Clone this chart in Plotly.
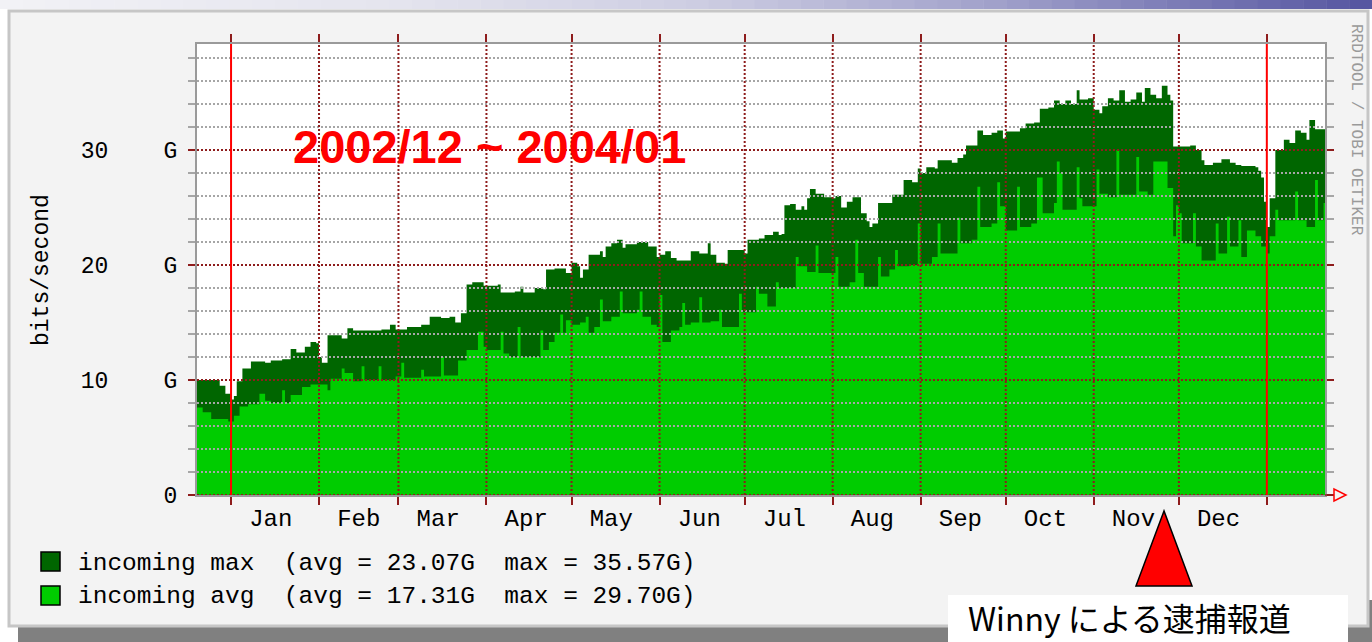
import plotly.graph_objects as go

# ---------------- data (Gbit/s) ----------------
max_dates = [
    "2002-12-20", "2002-12-25", "2002-12-28", "2002-12-30",
    "2003-01-01", "2003-01-02", "2003-01-03", "2003-01-05", "2003-01-08", "2003-01-13", "2003-01-15", "2003-01-19", "2003-01-22", "2003-01-24", "2003-01-27", "2003-01-29", "2003-01-31",
    "2003-02-01", "2003-02-02", "2003-02-04", "2003-02-09", "2003-02-11", "2003-02-13", "2003-02-18", "2003-02-23", "2003-02-26", "2003-02-28",
    "2003-03-04", "2003-03-09", "2003-03-12", "2003-03-16", "2003-03-19", "2003-03-21", "2003-03-23", "2003-03-25", "2003-03-27", "2003-03-31",
    "2003-04-05", "2003-04-06", "2003-04-11", "2003-04-13", "2003-04-14", "2003-04-18", "2003-04-21", "2003-04-22", "2003-04-25", "2003-04-29",
    "2003-05-01", "2003-05-03", "2003-05-04", "2003-05-05", "2003-05-07", "2003-05-11", "2003-05-12", "2003-05-13", "2003-05-15", "2003-05-17", "2003-05-19", "2003-05-20", "2003-05-24", "2003-05-27", "2003-05-28", "2003-05-31",
    "2003-06-01", "2003-06-03", "2003-06-05", "2003-06-07", "2003-06-11", "2003-06-12", "2003-06-15", "2003-06-18", "2003-06-19", "2003-06-21", "2003-06-24", "2003-06-25", "2003-06-29",
    "2003-07-01", "2003-07-02", "2003-07-06", "2003-07-08", "2003-07-11", "2003-07-13", "2003-07-14", "2003-07-15", "2003-07-17", "2003-07-19", "2003-07-21", "2003-07-22", "2003-07-23", "2003-07-24", "2003-07-26", "2003-07-29",
    "2003-08-01", "2003-08-02", "2003-08-04", "2003-08-06", "2003-08-08", "2003-08-11", "2003-08-13", "2003-08-14", "2003-08-15", "2003-08-17", "2003-08-22", "2003-08-26", "2003-08-29", "2003-08-31",
    "2003-09-01", "2003-09-03", "2003-09-06", "2003-09-07", "2003-09-12", "2003-09-14", "2003-09-16", "2003-09-17", "2003-09-21", "2003-09-23", "2003-09-26", "2003-09-28", "2003-09-30",
    "2003-10-01", "2003-10-06", "2003-10-08", "2003-10-11", "2003-10-13", "2003-10-16", "2003-10-18", "2003-10-20", "2003-10-22", "2003-10-24", "2003-10-26", "2003-10-27", "2003-10-30",
    "2003-11-01", "2003-11-03", "2003-11-04", "2003-11-06", "2003-11-08", "2003-11-10", "2003-11-12", "2003-11-14", "2003-11-16", "2003-11-18", "2003-11-19", "2003-11-21", "2003-11-23", "2003-11-25", "2003-11-27", "2003-11-28", "2003-11-29",
    "2003-12-03", "2003-12-05", "2003-12-07", "2003-12-09", "2003-12-10", "2003-12-13", "2003-12-16", "2003-12-19", "2003-12-21", "2003-12-23", "2003-12-28", "2003-12-29", "2003-12-30", "2003-12-31",
    "2004-01-01", "2004-01-02", "2004-01-04", "2004-01-07", "2004-01-09", "2004-01-11", "2004-01-13", "2004-01-15", "2004-01-16", "2004-01-18", "2004-01-22",
]
max_vals = [
    10.0, 10.0, 9.5, 8.8,
    8.3, 8.6, 9.9, 11.0, 11.6, 11.5, 11.7, 11.8, 12.7, 12.4, 12.9, 13.3, 13.2,
    12.0, 11.5, 13.9, 13.6, 14.5, 14.3, 14.3, 14.4, 14.8, 14.4,
    14.6, 14.8, 15.5, 15.4, 15.5, 15.0, 15.8, 18.3, 18.5, 18.2,
    18.3, 17.6, 17.7, 18.1, 17.6, 18.0, 17.9, 19.6, 19.7, 19.3,
    20.2, 19.9, 18.9, 19.6, 20.9, 21.2, 20.7, 21.6, 21.9, 22.2, 21.5, 21.8, 22.0, 22.0, 21.6, 20.7,
    20.9, 21.2, 20.6, 20.4, 20.4, 21.2, 21.0, 21.9, 20.9, 20.2, 20.1, 21.3, 21.3,
    21.0, 22.2, 22.3, 22.6, 22.9, 22.6, 22.7, 25.2, 25.3, 24.8, 25.1, 24.8, 25.8, 26.6, 26.2, 25.9,
    25.8, 26.0, 25.0, 25.5, 25.9, 24.5, 23.8, 23.3, 23.6, 25.4, 26.1, 27.4, 27.2, 28.4,
    28.0, 28.5, 28.4, 29.1, 28.9, 29.3, 29.6, 30.4, 31.7, 31.3, 31.5, 31.7, 31.0,
    31.6, 31.9, 32.3, 32.4, 33.6, 33.7, 34.3, 34.0, 34.3, 34.0, 35.2, 34.4, 34.5,
    33.5, 33.2, 33.8, 34.5, 34.3, 35.2, 34.2, 34.4, 35.0, 34.2, 35.4, 34.8, 34.5, 35.6, 34.8, 34.3, 30.3,
    30.3, 30.4, 30.0, 29.1, 28.7, 28.9, 29.2, 28.9, 28.7, 28.6, 28.5, 28.2, 27.6, 25.5,
    23.3, 25.8, 30.0, 30.9, 30.6, 31.7, 31.5, 30.9, 32.6, 31.8, 31.7,
]

avg_dates = [
    "2002-12-20", "2002-12-22", "2002-12-25", "2002-12-31",
    "2003-01-02", "2003-01-04", "2003-01-07", "2003-01-11", "2003-01-13", "2003-01-15", "2003-01-19", "2003-01-20", "2003-01-22", "2003-01-26", "2003-01-29",
    "2003-02-02", "2003-02-04", "2003-02-05", "2003-02-09", "2003-02-10", "2003-02-13", "2003-02-16", "2003-02-17", "2003-02-22", "2003-02-23", "2003-02-28",
    "2003-03-02", "2003-03-03", "2003-03-09", "2003-03-10", "2003-03-16", "2003-03-17", "2003-03-22", "2003-03-25", "2003-03-29", "2003-03-31",
    "2003-04-01", "2003-04-06", "2003-04-07", "2003-04-09", "2003-04-12", "2003-04-13", "2003-04-20", "2003-04-21", "2003-04-23", "2003-04-25", "2003-04-27", "2003-04-28", "2003-04-29",
    "2003-05-01", "2003-05-04", "2003-05-06", "2003-05-07", "2003-05-09", "2003-05-11", "2003-05-12", "2003-05-15", "2003-05-18", "2003-05-19", "2003-05-24", "2003-05-25", "2003-05-26", "2003-05-29", "2003-05-31",
    "2003-06-01", "2003-06-02", "2003-06-05", "2003-06-08", "2003-06-09", "2003-06-10", "2003-06-12", "2003-06-15", "2003-06-16", "2003-06-19", "2003-06-22", "2003-06-23", "2003-06-29", "2003-06-30",
    "2003-07-05", "2003-07-06", "2003-07-09", "2003-07-12", "2003-07-13", "2003-07-19", "2003-07-20", "2003-07-23", "2003-07-26", "2003-07-27",
    "2003-08-02", "2003-08-03", "2003-08-07", "2003-08-09", "2003-08-10", "2003-08-12", "2003-08-17", "2003-08-18", "2003-08-21", "2003-08-23", "2003-08-24", "2003-08-28", "2003-08-31",
    "2003-09-01", "2003-09-05", "2003-09-07", "2003-09-08", "2003-09-14", "2003-09-15", "2003-09-19", "2003-09-21", "2003-09-22", "2003-09-26", "2003-09-28", "2003-09-29",
    "2003-10-01", "2003-10-05", "2003-10-06", "2003-10-10", "2003-10-12", "2003-10-14", "2003-10-18", "2003-10-19", "2003-10-20", "2003-10-21", "2003-10-26", "2003-10-27", "2003-10-28",
    "2003-11-02", "2003-11-03", "2003-11-06", "2003-11-09", "2003-11-10", "2003-11-16", "2003-11-17", "2003-11-20", "2003-11-22", "2003-11-27", "2003-11-29", "2003-11-30",
    "2003-12-01", "2003-12-02", "2003-12-06", "2003-12-07", "2003-12-09", "2003-12-14", "2003-12-15", "2003-12-18", "2003-12-19", "2003-12-22", "2003-12-23", "2003-12-25", "2003-12-28", "2003-12-30",
    "2004-01-01", "2004-01-02", "2004-01-04", "2004-01-05", "2004-01-11", "2004-01-12", "2004-01-15", "2004-01-18", "2004-01-19", "2004-01-21", "2004-01-22",
]
avg_vals = [
    7.6, 7.2, 6.6, 6.4,
    6.9, 7.7, 7.9, 8.8, 8.2, 8.0, 9.1, 8.0, 8.7, 9.4, 9.6,
    9.6, 9.1, 10.1, 11.0, 10.6, 9.9, 11.2, 10.0, 11.2, 10.0, 10.3,
    11.5, 10.2, 10.9, 10.3, 12.0, 10.4, 11.7, 12.6, 14.2, 12.9,
    12.6, 14.2, 12.3, 12.0, 14.6, 12.0, 14.3, 12.6, 13.3, 14.1, 15.7, 14.1, 15.2,
    14.8, 15.0, 15.5, 14.1, 14.6, 17.0, 15.1, 15.5, 17.7, 15.8, 16.1, 17.7, 15.5, 14.8, 14.6,
    17.4, 13.3, 14.3, 14.6, 16.7, 14.8, 15.0, 17.2, 15.0, 15.1, 16.1, 14.6, 17.5, 15.9,
    18.1, 17.5, 16.4, 18.5, 18.0, 20.7, 19.9, 19.4, 21.7, 19.3,
    20.7, 18.1, 18.5, 22.2, 19.3, 18.1, 20.7, 19.0, 19.6, 21.3, 19.9, 20.0, 23.6,
    20.1, 20.7, 23.6, 21.0, 24.1, 21.9, 22.2, 26.8, 23.3, 23.6, 27.2, 25.1,
    23.0, 26.8, 23.3, 23.6, 27.6, 24.5, 25.4, 29.0, 28.0, 24.8, 28.5, 25.8, 25.1,
    28.3, 26.2, 25.9, 30.0, 26.1, 29.4, 26.4, 26.1, 29.0, 26.7, 22.5, 25.2,
    24.5, 21.9, 24.5, 21.6, 20.4, 23.6, 21.0, 24.2, 21.6, 23.9, 20.7, 23.0, 22.5, 21.6,
    21.0, 22.5, 24.8, 23.9, 26.4, 23.9, 23.3, 27.4, 23.9, 25.4, 25.4,
]

month_labels = ["Jan", "Feb", "Mar", "Apr", "May", "Jun", "Jul", "Aug", "Sep", "Oct", "Nov", "Dec"]
label_dates = ["2003-%02d-15" % m for m in range(1, 13)]
month_starts = ["2003-%02d-01" % m for m in range(2, 13)]
year_starts = ["2003-01-01", "2004-01-01"]
y_tick_vals = [0, 10, 20, 30]
y_tick_text = ["0", "10    G", "20    G", "30    G"]
major_levels = [0, 10, 20, 30]
minor_levels = [v for v in range(2, 40, 2) if v % 10]
legend_names = ["incoming max  (avg = 23.07G  max = 35.57G)",
                "incoming avg  (avg = 17.31G  max = 29.70G)"]
title_text = "2002/12 ~ 2004/01"
note_text = "Winny による逮捕報道"
watermark = "RRDTOOL / TOBI OETIKER"

# ---------------- styling ----------------
W, H = 1372, 642
L, R, T, B = 197, 1325, 44, 495     # plot box in pixels
DARK = "#006600"
LIGHT = "#00cc00"
MGRID = "#8e1c1c"
GRID = "#a6a6a6"
FRAME = "#9a9a9a"
MONO = "Liberation Mono"


def px(x):
    return (x - L) / (R - L)


def py(y):
    return (B - y) / (B - T)


fig = go.Figure()
fig.add_trace(go.Scatter(x=max_dates, y=max_vals, mode="lines",
                         line=dict(width=0, shape="hv", color=DARK),
                         fill="tozeroy", fillcolor=DARK, showlegend=False,
                         hoverinfo="skip"))
fig.add_trace(go.Scatter(x=avg_dates, y=avg_vals, mode="lines",
                         line=dict(width=0, shape="hv", color=LIGHT),
                         fill="tozeroy", fillcolor=LIGHT, showlegend=False,
                         hoverinfo="skip"))

shapes = []
# slide decoration: shadow, panel, top gradient band, white plot area
shapes.append(dict(type="rect", xref="paper", yref="paper", x0=px(18), x1=px(1390),
                   y0=py(660), y1=py(600), fillcolor="#808080", line=dict(width=0), layer="below"))
shapes.append(dict(type="rect", xref="paper", yref="paper", x0=px(9), x1=px(1368),
                   y0=py(626), y1=py(11), fillcolor="#f3f3f3",
                   line=dict(color="#c6c6c6", width=3), layer="below"))
stops = [(0, (242, 242, 246)), (400, (228, 228, 238)), (700, (205, 205, 226)),
         (1000, (160, 160, 202)), (1372, (84, 84, 160))]
N = 60
for i in range(N):
    xa = W * i / N
    xb = W * (i + 1) / N
    xm = (xa + xb) / 2
    for (s0, c0), (s1, c1) in zip(stops[:-1], stops[1:]):
        if s0 <= xm <= s1:
            f = (xm - s0) / (s1 - s0)
            c = tuple(int(round(a + (b - a) * f)) for a, b in zip(c0, c1))
            break
    shapes.append(dict(type="rect", xref="paper", yref="paper", x0=px(xa), x1=px(xb + 0.5),
                       y0=py(9), y1=py(0), fillcolor="rgb(%d,%d,%d)" % c,
                       line=dict(width=0), layer="below"))
shapes.append(dict(type="rect", xref="paper", yref="paper", x0=0, x1=1, y0=0, y1=1,
                   fillcolor="white", line=dict(width=0), layer="below"))

# grid drawn over the data, as rrdtool does
for v in minor_levels:
    shapes.append(dict(type="line", xref="paper", x0=0, x1=1, yref="y", y0=v, y1=v,
                       line=dict(color=GRID, width=2, dash="2px,2px"), layer="above"))
for v in major_levels:
    shapes.append(dict(type="line", xref="paper", x0=0, x1=1, yref="y", y0=v, y1=v,
                       line=dict(color=MGRID, width=2, dash="2px,2px"), layer="above"))
for d in month_starts:
    shapes.append(dict(type="line", xref="x", x0=d, x1=d, yref="paper", y0=0, y1=1,
                       line=dict(color=MGRID, width=2, dash="2px,2px"), layer="above"))
for d in year_starts:
    shapes.append(dict(type="line", xref="x", x0=d, x1=d, yref="paper", y0=0, y1=1,
                       line=dict(color="#ff0000", width=2), layer="above"))

# x-axis arrow
shapes.append(dict(type="line", xref="paper", yref="paper", x0=1, x1=px(1334), y0=0, y1=0,
                   line=dict(color=MGRID, width=1.5), layer="above"))
shapes.append(dict(type="path", xref="paper", yref="paper",
                   path="M %f,%f L %f,%f L %f,%f Z" % (px(1334), py(489), px(1334), py(501), px(1346), py(495)),
                   fillcolor="#f3f3f3", line=dict(color="#ff0000", width=1.5), layer="above"))

# legend squares
for i, col in enumerate([DARK, LIGHT]):
    y0 = 552 + 34 * i
    shapes.append(dict(type="rect", xref="paper", yref="paper", x0=px(41), x1=px(60),
                       y0=py(y0 + 19), y1=py(y0), fillcolor=col,
                       line=dict(color="black", width=1.5), layer="above"))

# red triangle + white caption box
shapes.append(dict(type="path", xref="paper", yref="paper",
                   path="M %f,%f L %f,%f L %f,%f Z" % (px(1164), py(511), px(1136), py(586), px(1192), py(586)),
                   fillcolor="#ff0000", line=dict(color="black", width=1.5), layer="above"))
shapes.append(dict(type="rect", xref="paper", yref="paper", x0=px(948), x1=px(1348),
                   y0=py(660), y1=py(595), fillcolor="white", line=dict(width=0), layer="above"))

annotations = [
    dict(text=title_text, xref="paper", yref="paper", x=px(490), y=py(146), showarrow=False,
         font=dict(family="Liberation Sans", size=47, color="#ff0000", weight="bold"),
         xanchor="center", yanchor="middle"),
    dict(text="bits/second", xref="paper", yref="paper", x=px(42), y=py(270), showarrow=False,
         textangle=-90, font=dict(family=MONO, size=23, color="black"),
         xanchor="center", yanchor="middle"),
    dict(text=watermark, xref="paper", yref="paper", x=px(1356), y=py(130), showarrow=False,
         textangle=90, font=dict(family=MONO, size=16, color="#9a9a9a"),
         xanchor="center", yanchor="middle"),
    dict(text=note_text, xref="paper", yref="paper", x=px(966), y=py(617), showarrow=False,
         font=dict(family="Noto Sans CJK JP", size=32, color="black"),
         xanchor="left", yanchor="middle"),
]
for i, name in enumerate(legend_names):
    annotations.append(dict(text=name, xref="paper", yref="paper", x=px(76), y=py(563 + 33 * i),
                            showarrow=False, font=dict(family=MONO, size=24.5, color="black"),
                            xanchor="left", yanchor="middle"))

fig.update_layout(
    width=W, height=H,
    margin=dict(l=L, r=W - R, t=T, b=H - B, pad=0),
    paper_bgcolor="white",
    plot_bgcolor="rgba(0,0,0,0)",
    shapes=shapes,
    annotations=annotations,
    showlegend=False,
    hovermode=False,
    xaxis=dict(
        type="date", range=["2002-12-20", "2004-01-21 12:00"],
        tickmode="array", tickvals=label_dates, ticktext=month_labels,
        ticks="", showgrid=False, zeroline=False,
        tickfont=dict(family=MONO, size=24, color="black"),
        ticklabelstandoff=0,
        minor=dict(tickmode="array", tickvals=year_starts + month_starts, ticks="outside",
                   ticklen=8, tickwidth=2, tickcolor=MGRID, showgrid=False),
        showline=True, linecolor=FRAME, linewidth=2, mirror="ticks",
    ),
    yaxis=dict(
        range=[0, 39.22], tickmode="array", tickvals=y_tick_vals, ticktext=y_tick_text,
        ticks="outside", ticklen=7, tickwidth=2, tickcolor=MGRID,
        showgrid=False, zeroline=False,
        tickfont=dict(family=MONO, size=23, color="black"),
        ticklabelstandoff=6,
        minor=dict(dtick=2, tick0=0, ticks="outside", ticklen=7, tickwidth=2,
                   tickcolor=GRID, showgrid=False),
        showline=True, linecolor=FRAME, linewidth=2, mirror="ticks",
    ),
)

fig.write_html("out.html", config={"displayModeBar": False, "staticPlot": True},
               post_script="document.body.style.margin='0px';document.body.style.overflow='hidden';")
